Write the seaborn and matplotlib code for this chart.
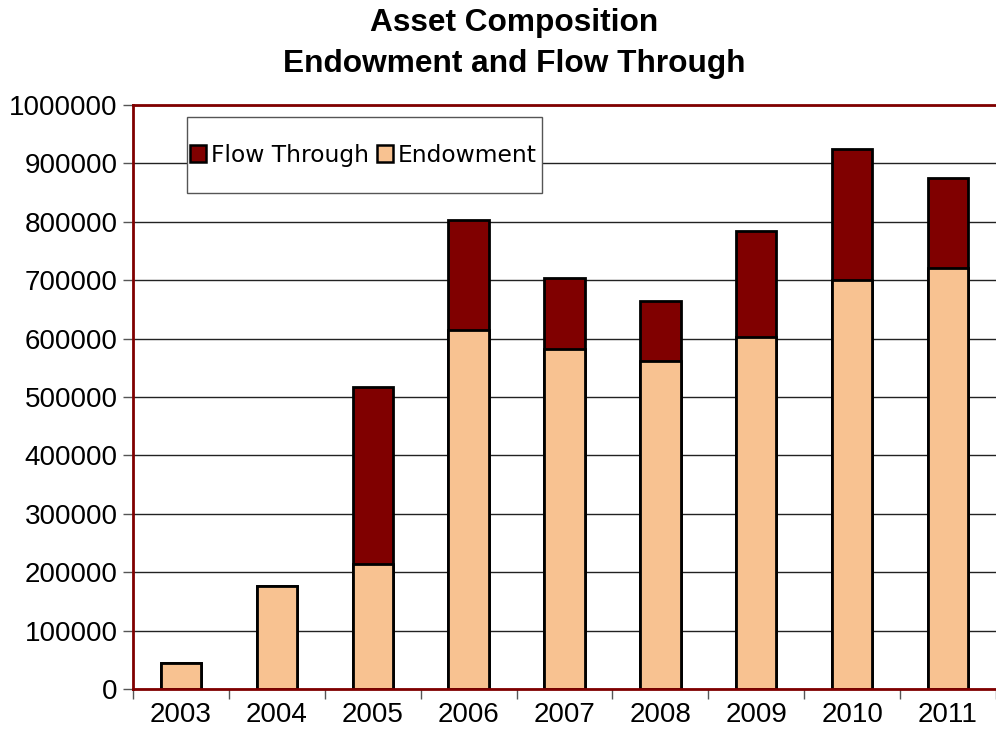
import matplotlib
matplotlib.use("Agg")
import pandas
import seaborn as sea
from matplotlib import pyplot
from matplotlib.patches import Patch, Rectangle

years = ["2003", "2004", "2005", "2006", "2007", "2008", "2009", "2010", "2011"]
endowment = [44000, 176000, 214000, 615000, 582000, 562000, 603000, 700000, 721000]
flow_through = [0, 0, 303000, 188000, 122000, 102000, 181000, 225000, 154000]

DARK_RED = "#800000"
PEACH = "#F8C291"

sea.set_style("white")
pyplot.rcParams["font.family"] = ["Liberation Sans", "DejaVu Sans"]
pyplot.rcParams["text.color"] = "black"
pyplot.rcParams["xtick.labelcolor"] = "black"
pyplot.rcParams["ytick.labelcolor"] = "black"

df = pandas.DataFrame({"year": years, "endowment": endowment, "flow": flow_through})
df["total"] = df["endowment"] + df["flow"]

figure = pyplot.figure(figsize=(9.96, 7.34), dpi=100)
ax = figure.add_axes([0.1335, 0.0613, 0.8665, 0.7956])

# stacked look: total in dark red, endowment drawn over it
sea.barplot(data=df, x="year", y="total", color=DARK_RED, edgecolor="black",
            linewidth=2, width=0.42, saturation=1, ax=ax)
sea.barplot(data=df, x="year", y="endowment", color=PEACH, edgecolor="black",
            linewidth=2, width=0.42, saturation=1, ax=ax)

ax.set_xlim(-0.5, len(years) - 0.5)
ax.set_ylim(0, 1000000)
ax.set_yticks(range(0, 1000001, 100000))
ax.ticklabel_format(axis="y", style="plain")
ax.set_xlabel("")
ax.set_ylabel("")
ax.yaxis.grid(True, color="#222222", linewidth=1)
ax.set_axisbelow(True)

ax.tick_params(axis="y", labelsize=20, left=True, length=7, color="#555555",
               width=1, pad=4)
ax.set_xticks([i - 0.5 for i in range(len(years) + 1)], minor=True)
ax.tick_params(axis="x", which="major", labelsize=20, bottom=False, pad=6)
ax.tick_params(axis="x", which="minor", bottom=True, length=7, color="#555555",
               width=1)

for side in ["left", "top", "bottom"]:
    ax.spines[side].set_color(DARK_RED)
    ax.spines[side].set_linewidth(2)
ax.spines["right"].set_visible(False)

# legend box drawn by hand, since it is taller than the entries need
ax.add_patch(Rectangle((0.0626, 0.849), 0.411, 0.13, transform=ax.transAxes,
                       facecolor="white", edgecolor="#555555", linewidth=1,
                       zorder=4))
handles = [
    Patch(facecolor=DARK_RED, edgecolor="black", linewidth=1.8, label="Flow Through"),
    Patch(facecolor=PEACH, edgecolor="black", linewidth=1.8, label="Endowment"),
]
leg = ax.legend(handles=handles, loc="center left", bbox_to_anchor=(0.066, 0.914),
                ncol=2, frameon=False, borderpad=0, handlelength=0.7,
                handleheight=0.7, handletextpad=0.2, columnspacing=0.35,
                borderaxespad=0, prop={"family": ["DejaVu Sans"], "size": 16.8})
leg.set_zorder(5)

figure.text(0.516, 0.968, "Asset Composition", ha="center", va="center",
            fontsize=22.8, fontweight="bold")
figure.text(0.516, 0.913, "Endowment and Flow Through", ha="center", va="center",
            fontsize=22.8, fontweight="bold")

pyplot.savefig("out.png", dpi=100)
pyplot.close()
